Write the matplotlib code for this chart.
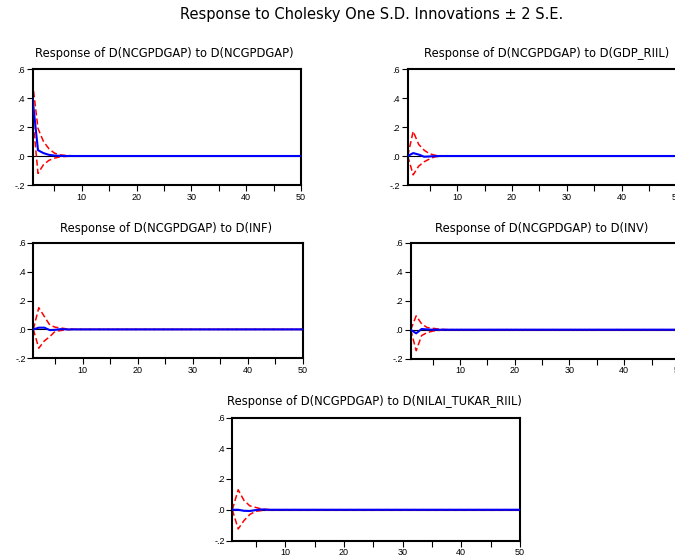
import numpy as np
import matplotlib
matplotlib.use("Agg")
import matplotlib.pyplot as plt

plt.rcParams['font.family'] = ['Liberation Sans', 'DejaVu Sans']

N = 50
periods = np.arange(1, N + 1)

main_title = "Response to Cholesky One S.D. Innovations \u00b1 2 S.E."
panel_titles = [
    "Response of D(NCGPDGAP) to D(NCGPDGAP)",
    "Response of D(NCGPDGAP) to D(GDP_RIIL)",
    "Response of D(NCGPDGAP) to D(INF)",
    "Response of D(NCGPDGAP) to D(INV)",
    "Response of D(NCGPDGAP) to D(NILAI_TUKAR_RIIL)",
]

# read values for the first periods; later periods are 0
resp_ncgpdgap = [0.40, 0.04, 0.02, 0.008, 0.003, 0.001, 0.0]
upper_ncgpdgap = [0.51, 0.19, 0.10, 0.05, 0.02, 0.008, 0.004, 0.002]
lower_ncgpdgap = [0.29, -0.12, -0.06, -0.03, -0.015, -0.006, -0.003, -0.001]

resp_gdp = [0.0, 0.02, 0.01, -0.005, -0.003, -0.001, 0.0]
upper_gdp = [0.0, 0.17, 0.08, 0.04, 0.015, 0.005, 0.002]
lower_gdp = [0.0, -0.13, -0.07, -0.04, -0.02, -0.005, -0.002]

resp_inf = [0.0, 0.012, 0.012, -0.005, -0.003, 0.002, 0.0]
upper_inf = [0.0, 0.15, 0.09, 0.03, 0.015, 0.01, 0.004, 0.002]
lower_inf = [0.0, -0.13, -0.08, -0.05, -0.012, -0.008, -0.003, -0.001]

resp_inv = [0.0, -0.025, 0.005, 0.002, 0.0]
upper_inv = [0.0, 0.095, 0.04, 0.015, 0.01, 0.005, 0.002]
lower_inv = [0.0, -0.145, -0.04, -0.02, -0.01, -0.005, -0.002]

resp_nilai = [0.0, 0.0, -0.007, -0.008, -0.002, 0.002, 0.0]
upper_nilai = [0.0, 0.13, 0.06, 0.025, 0.015, 0.005, 0.002]
lower_nilai = [0.0, -0.125, -0.07, -0.03, -0.01, -0.005, -0.002]

y_ticks = [-0.2, 0.0, 0.2, 0.4, 0.6]
y_ticklabels = ["-.2", ".0", ".2", ".4", ".6"]
x_ticks = [10, 20, 30, 40, 50]


def pad(v):
    v = np.asarray(v, dtype=float)
    return np.concatenate([v, np.zeros(N - len(v))])


series = [
    (resp_ncgpdgap, upper_ncgpdgap, lower_ncgpdgap),
    (resp_gdp, upper_gdp, lower_gdp),
    (resp_inf, upper_inf, lower_inf),
    (resp_inv, upper_inv, lower_inv),
    (resp_nilai, upper_nilai, lower_nilai),
]

W, H = 675, 558
fig = plt.figure(figsize=(W / 100, H / 100), dpi=100)

# (left, top, right, bottom) in pixels, title centre (x, y)
boxes = [
    (32.5, 69, 301, 185, 164, 53),
    (407.7, 69, 676.5, 185, 547, 53),
    (33.3, 242.7, 302.7, 358.3, 166, 228),
    (410.7, 242.7, 679, 358.7, 542, 228),
    (232.3, 417.5, 520, 540.5, 374, 401.5),
]

for (l, t, r, b, tx, ty), (resp, up, lo), title in zip(boxes, series, panel_titles):
    ax = fig.add_axes([l / W, 1 - b / H, (r - l) / W, (b - t) / H])
    ax.axhline(0, color='black', lw=0.8, zorder=1)
    ax.plot(periods, pad(resp), color='#0000ff', lw=1.5, zorder=3)
    ax.plot(periods, pad(up), color='#ff0000', lw=1.1, ls=(0, (4, 2)), zorder=2)
    ax.plot(periods, pad(lo), color='#ff0000', lw=1.1, ls=(0, (4, 2)), zorder=2)
    ax.set_xlim(1, 50)
    ax.set_ylim(-0.2, 0.6)
    ax.set_yticks(y_ticks)
    ax.set_yticklabels(y_ticklabels)
    ax.set_xticks(x_ticks)
    ax.set_xticks([5, 15, 25, 35, 45], minor=True)
    ax.tick_params(axis='both', which='major', direction='out', length=4,
                   width=0.8, labelsize=6.5, pad=1.5)
    ax.tick_params(axis='x', which='minor', direction='out', length=4, width=0.8)
    for s in ax.spines.values():
        s.set_linewidth(1.5)
    fig.text(tx / W, 1 - ty / H, title, ha='center', va='center', fontsize=8.3,
             family=['DejaVu Sans'])

fig.text(372 / W, 1 - 14 / H, main_title, ha='center', va='center', fontsize=10.5,
         family=['DejaVu Sans'])

fig.savefig("out.png", dpi=100)
